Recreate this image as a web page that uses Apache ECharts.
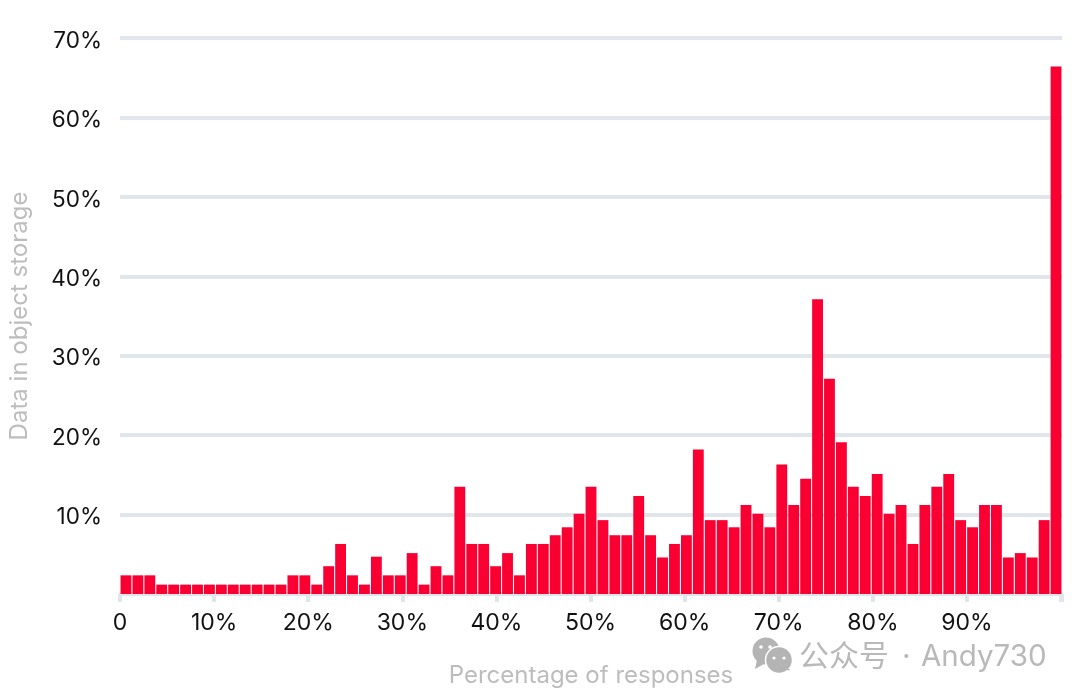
<!DOCTYPE html>
<html>
<head>
<meta charset="utf-8">
<style>html,body{margin:0;padding:0;background:#fff}#c{width:1080px;height:699px}</style>
<script src="https://cdn.jsdelivr.net/npm/echarts@6/dist/echarts.min.js"></script>
</head>
<body>
<div id="c"></div>
<script>
const dataInObjectStorage = [
  2.35,2.35,2.35,1.18,1.18,1.18,1.18,1.18,1.18,1.18,1.18,1.18,1.18,1.18,
  2.35,2.35,1.18,3.5,6.3,2.35,1.18,4.7,2.35,2.35,5.15,1.18,3.5,2.35,13.5,
  6.3,6.3,3.5,5.15,2.35,6.3,6.3,7.4,8.4,10.1,13.5,9.3,7.4,7.4,12.35,7.4,
  4.6,6.3,7.4,18.2,9.3,9.3,8.4,11.2,10.1,8.4,16.3,11.2,14.5,37.1,27.1,
  19.1,13.5,12.35,15.1,10.1,11.2,6.3,11.2,13.5,15.1,9.3,8.4,11.2,11.2,
  4.6,5.15,4.6,9.3,66.4
];
const bins = dataInObjectStorage.map((_, i) => String(i + 1));
const xAxisTitle = 'Percentage of responses';
const yAxisTitle = 'Data in object storage';
const watermarkParts = ['公众号', '·', 'Andy730'];

const FONT = 'Inter, "Noto Sans CJK SC", sans-serif';
const chart = echarts.init(document.getElementById('c'), null, {renderer: 'canvas'});
chart.setOption({
  animation: false,
  backgroundColor: '#ffffff',
  grid: {left: 120, right: 18, top: 38, bottom: 105, containLabel: false, outerBoundsMode: 'none'},
  xAxis: [
    {
      type: 'category', data: bins, position: 'bottom',
      axisLine: {show: false}, axisTick: {show: false}, axisLabel: {show: false}, splitLine: {show: false}
    },
    {
      type: 'value', min: 0, max: 100.1, interval: 10, position: 'bottom',
      axisLine: {show: true, lineStyle: {color: '#e1e5ec', width: 3}},
      axisTick: {show: true, length: 8, lineStyle: {color: '#e1e5ec', width: 4}},
      axisLabel: {
        color: '#111111', fontFamily: FONT, fontSize: 23, margin: 18,
        formatter: v => v === 0 ? '0' : (v >= 100 ? '' : v + '%')
      },
      splitLine: {show: false},
      name: xAxisTitle, nameLocation: 'middle', nameGap: 70,
      nameTextStyle: {color: '#bdbdbd', fontFamily: FONT, fontSize: 24}
    }
  ],
  yAxis: {
    type: 'value', min: 0, max: 70, interval: 10,
    axisLine: {show: false}, axisTick: {show: false},
    axisLabel: {
      fontFamily: FONT, margin: 18,
      formatter: v => v === 0 ? '' : '{t|' + v + '%}',
      rich: {t: {color: '#111111', fontFamily: FONT, fontSize: 22.5, padding: [6, 0, 0, 0]}}
    },
    splitLine: {show: true, lineStyle: {color: '#e1e5ec', width: 4}},
    name: yAxisTitle, nameLocation: 'middle', nameGap: 88, nameRotate: 90,
    nameTextStyle: {color: '#bdbdbd', fontFamily: FONT, fontSize: 24}
  },
  series: [{
    type: 'bar', xAxisIndex: 0, yAxisIndex: 0,
    data: dataInObjectStorage,
    barCategoryGap: '9%',
    itemStyle: {color: '#fa0032'},
    silent: true, z: 3
  }],
  graphic: [
    {type: 'circle', z: 10, shape: {cx: 766, cy: 651, r: 13.5}, style: {fill: '#b4b4b4'}},
    {type: 'polygon', z: 10, shape: {points: [[757,660],[755,669],[764,664]]}, style: {fill: '#b4b4b4'}},
    {type: 'circle', z: 11, shape: {cx: 779, cy: 660, r: 13.5}, style: {fill: '#b4b4b4', stroke: '#ffffff', lineWidth: 1.5}},
    {type: 'polygon', z: 11, shape: {points: [[783,670],[790,669],[789,671],[788,669]]}, style: {fill: '#b4b4b4'}},
    {type: 'circle', z: 12, shape: {cx: 761, cy: 647, r: 1.8}, style: {fill: '#fff'}},
    {type: 'circle', z: 12, shape: {cx: 770, cy: 647, r: 1.8}, style: {fill: '#fff'}},
    {type: 'circle', z: 12, shape: {cx: 774, cy: 658, r: 1.6}, style: {fill: '#fff'}},
    {type: 'circle', z: 12, shape: {cx: 784, cy: 658, r: 1.6}, style: {fill: '#fff'}},
    {type: 'text', z: 12, left: 799, top: 642, style: {text: watermarkParts[0], fill: '#b9b9b9', font: '30px ' + FONT}},
    {type: 'text', z: 12, left: 902, top: 642, style: {text: watermarkParts[1], fill: '#b9b9b9', font: '30px ' + FONT}},
    {type: 'text', z: 12, left: 921, top: 642, style: {text: watermarkParts[2], fill: '#b9b9b9', font: '29.5px ' + FONT}}
  ]
});
</script>
</body>
</html>
